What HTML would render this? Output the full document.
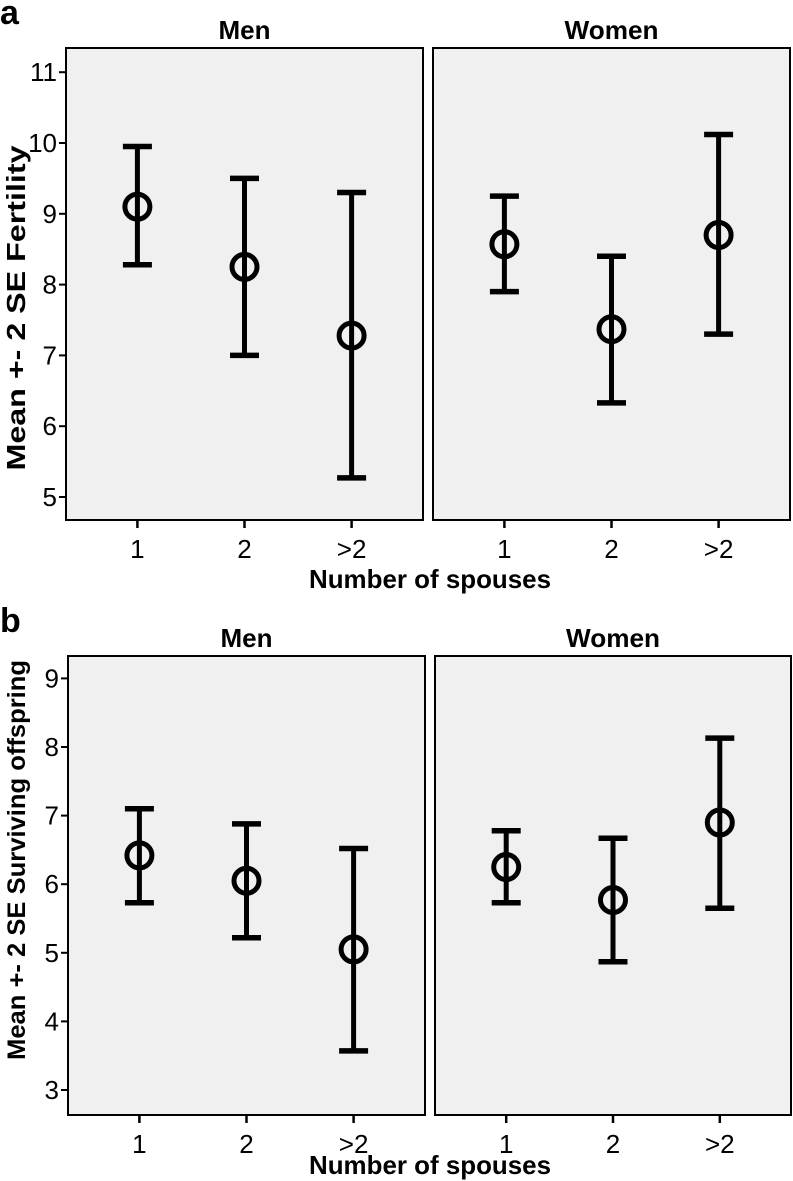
<!DOCTYPE html>
<html><head><meta charset="utf-8"><style>
body{margin:0;background:#fff;}
svg{display:block;font-family:"Liberation Sans",Arial,sans-serif;}
</style></head><body>
<svg id="chart" width="793" height="1181" viewBox="0 0 793 1181" xmlns="http://www.w3.org/2000/svg"></svg>
<script>
const categories = ["1","2",">2"];
const panelTitles = ["Men","Women"];
// Panel a: Fertility
const aTicks = [5,6,7,8,9,10,11];
const aMenMean = [9.10, 8.25, 7.28];
const aMenLow = [8.28, 7.00, 5.27];
const aMenHigh = [9.95, 9.50, 9.30];
const aWomenMean = [8.57, 7.37, 8.70];
const aWomenLow = [7.90, 6.33, 7.30];
const aWomenHigh = [9.25, 8.40, 10.12];
// Panel b: Surviving offspring
const bTicks = [3,4,5,6,7,8,9];
const bMenMean = [6.42, 6.05, 5.05];
const bMenLow = [5.73, 5.22, 3.57];
const bMenHigh = [7.10, 6.88, 6.52];
const bWomenMean = [6.25, 5.77, 6.90];
const bWomenLow = [5.73, 4.87, 5.65];
const bWomenHigh = [6.78, 6.67, 8.13];

const NS = "http://www.w3.org/2000/svg";
const svg = document.getElementById("chart");
function mk(tag, attrs, parent){
  const e = document.createElementNS(NS, tag);
  for (const k in attrs) e.setAttribute(k, attrs[k]);
  (parent||svg).appendChild(e);
  return e;
}
function txt(s, attrs, parent){ const t = mk("text", attrs, parent); t.textContent = s; return t; }

function panel(cfg){
  const g = mk("g", {});
  
  
  const yScale = v => cfg.y0 - (v - cfg.t0) * cfg.unit;
  const l = txt(cfg.letter, {x:0, y:cfg.letterY, "font-size":34, "font-weight":"bold"}, g);
  
  
  const yt = txt(cfg.yTitle, {x:0, y:0, "font-size":cfg.yTitleSize, "font-weight":"bold", "text-anchor":"middle",
    textLength:cfg.yTitleLen, lengthAdjust:"spacingAndGlyphs",
    transform:`translate(25,${cfg.yTitleY}) rotate(-90)`}, g);
  
  
  const xt = txt("Number of spouses", {x:430, y:cfg.xTitleY, "font-size":26, "font-weight":"bold", "text-anchor":"middle",
    textLength:242, lengthAdjust:"spacingAndGlyphs"}, g);
  
  
  cfg.ticks.forEach(t => {
    const y = yScale(t);
    const ln = mk("line", {x1:cfg.boxes[0][0]-7, x2:cfg.boxes[0][0], y1:y, y2:y, stroke:"#000", "stroke-width":2}, g);
    
    
    const lb = txt(String(t), {x:cfg.boxes[0][0]-9, y:y+9, "font-size":26, "text-anchor":"end"}, g);
    
    
  });
  cfg.boxes.forEach((b, bi) => {
    const [x0, x1] = b;
    const sub = mk("g", {}, g);
    
    
    const r = mk("rect", {x:x0, y:cfg.top, width:x1-x0, height:cfg.bottom-cfg.top, fill:"#f0f0f0", stroke:"#000", "stroke-width":2}, sub);
    
    
    const ti = txt(panelTitles[bi], {x:(x0+x1)/2, y:cfg.top-9, "font-size":26, "font-weight":"bold", "text-anchor":"middle",
      textLength: bi===0 ? 52 : 94, lengthAdjust:"spacingAndGlyphs"}, sub);
    
    
    const step = (x1-x0)/10;
    const means = cfg.series[bi][0], lows = cfg.series[bi][1], highs = cfg.series[bi][2];
    categories.forEach((c, i) => {
      const cx = x0 + step*(2 + 3*i);
      const tk = mk("line", {x1:cx, x2:cx, y1:cfg.bottom, y2:cfg.bottom+8, stroke:"#000", "stroke-width":2.5}, sub);
      
      
      const tl = txt(c, {x:cx, y:cfg.bottom+38, "font-size":26, "text-anchor":"middle"}, sub);
      
      
      const yH = yScale(highs[i]), yL = yScale(lows[i]), yM = yScale(means[i]);
      const eb = mk("g", {}, sub);
      
      
      mk("line", {x1:cx, x2:cx, y1:yH, y2:yL, stroke:"#000", "stroke-width":5}, eb);
      mk("line", {x1:cx-14.5, x2:cx+14.5, y1:yH, y2:yH, stroke:"#000", "stroke-width":5.5}, eb);
      mk("line", {x1:cx-14.5, x2:cx+14.5, y1:yL, y2:yL, stroke:"#000", "stroke-width":5.5}, eb);
      const c1 = mk("circle", {cx:cx, cy:yM, r:12.5, fill:"none", stroke:"#000", "stroke-width":5}, eb);
      
      
    });
  });
}

panel({name:"panel-a-fertility", letter:"a", letterY:24, yTitle:"Mean +- 2 SE Fertility", yTitleY:308, yTitleLen:325, yTitleSize:26,
  xTitleY:588, top:48, bottom:520, y0:497, t0:5, unit:70.8, ticks:aTicks,
  boxes:[[66,423],[433,790]],
  series:[[aMenMean,aMenLow,aMenHigh],[aWomenMean,aWomenLow,aWomenHigh]]});
panel({name:"panel-b-surviving-offspring", letter:"b", letterY:632, yTitle:"Mean +- 2 SE Surviving offspring", yTitleY:860, yTitleLen:400, yTitleSize:25,
  xTitleY:1174, top:656, bottom:1115, y0:1090, t0:3, unit:68.6, ticks:bTicks,
  boxes:[[68,425],[435,791]],
  series:[[bMenMean,bMenLow,bMenHigh],[bWomenMean,bWomenLow,bWomenHigh]]});
</script>
</body></html>
